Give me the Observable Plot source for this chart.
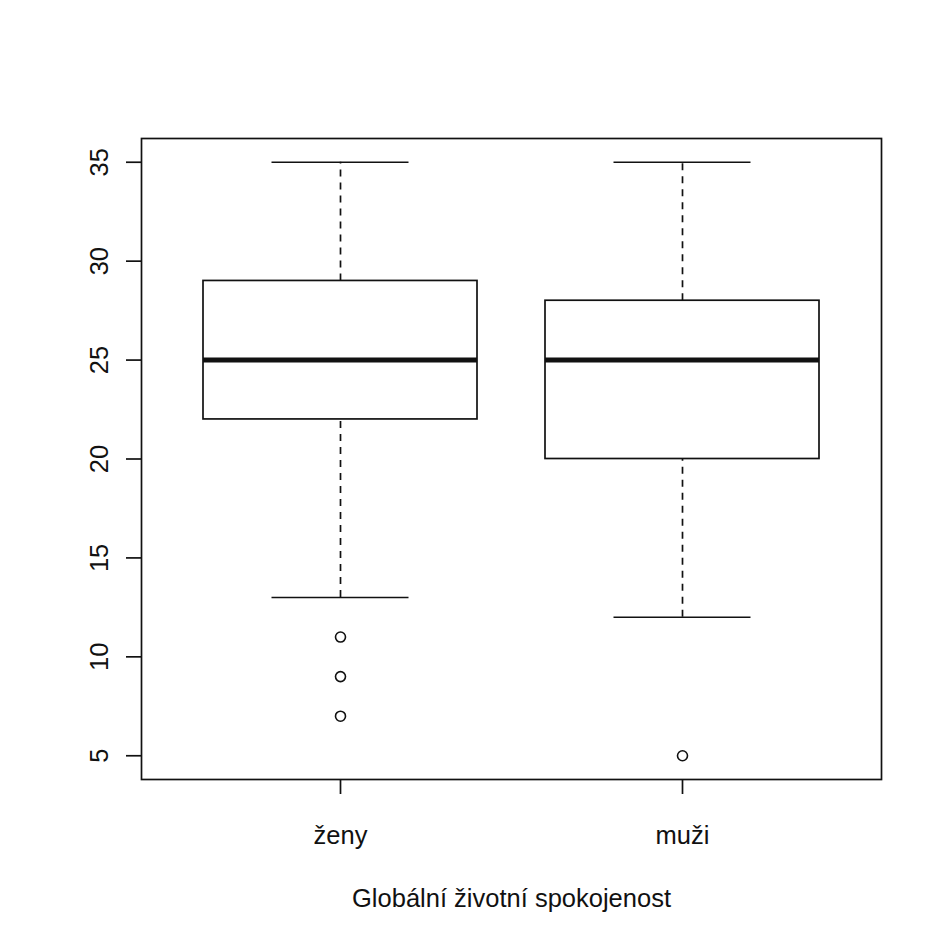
<!DOCTYPE html>
<html>
<head>
<meta charset="utf-8">
<script src="https://cdn.jsdelivr.net/npm/d3@7"></script>
<script src="https://cdn.jsdelivr.net/npm/@observablehq/plot@0.6"></script>
<style>
  html, body { margin: 0; padding: 0; background: #ffffff; }
  #chart svg { display: block; }
</style>
</head>
<body>
<div id="chart"></div>
<script>
// ---- Data ----
const groups = ["ženy", "muži"];
const lowerWhisker = [13, 12];
const q1 = [22, 20];
const median = [25, 25];
const q3 = [29, 28];
const upperWhisker = [35, 35];
const outlierGroup = ["ženy", "ženy", "ženy", "muži"];
const outlierValue = [11, 9, 7, 5];
const yTicks = [5, 10, 15, 20, 25, 30, 35];
const xTitle = "Globální životní spokojenost";

const boxes = groups.map((g, i) => ({
  group: g, lo: lowerWhisker[i], q1: q1[i], med: median[i], q3: q3[i], hi: upperWhisker[i]
}));
const outliers = outlierGroup.map((g, i) => ({group: g, value: outlierValue[i]}));

const ink = "#111";
const fontSize = 25.5;

const chart = Plot.plot({
  width: 938,
  height: 937,
  marginLeft: 141,
  marginRight: 57,
  marginTop: 138,
  marginBottom: 158,
  style: {fontFamily: "'Liberation Sans', Arial, sans-serif", fontSize: fontSize + "px", color: ink, background: "#ffffff"},
  x: {type: "band", domain: groups, paddingInner: 0.2, paddingOuter: 0.18},
  y: {domain: [3.8, 36.2]},
  marks: [
    // whiskers (dashed)
    Plot.ruleX(boxes, {x: "group", y1: "q3", y2: "hi", stroke: ink, strokeWidth: 1.7, strokeDasharray: "7,6"}),
    Plot.ruleX(boxes, {x: "group", y1: "lo", y2: "q1", stroke: ink, strokeWidth: 1.7, strokeDasharray: "7,6"}),
    // whisker caps (half box width)
    Plot.tickY(boxes, {x: "group", y: "hi", stroke: ink, strokeWidth: 1.7, insetLeft: 68.5, insetRight: 68.5}),
    Plot.tickY(boxes, {x: "group", y: "lo", stroke: ink, strokeWidth: 1.7, insetLeft: 68.5, insetRight: 68.5}),
    // boxes
    Plot.barY(boxes, {x: "group", y1: "q1", y2: "q3", fill: "white", stroke: ink, strokeWidth: 1.7}),
    // medians
    Plot.tickY(boxes, {x: "group", y: "med", stroke: ink, strokeWidth: 5}),
    // outliers
    Plot.dot(outliers, {x: "group", y: "value", r: 5, stroke: ink, strokeWidth: 1.6, fill: "none"}),
    // frame
    Plot.frame({stroke: ink, strokeWidth: 1.7}),
    // axes
    Plot.axisY({ticks: yTicks, tickSize: 15, tickPadding: 19, tickRotate: -90, label: null, fontSize: fontSize, stroke: ink, strokeWidth: 1.7}),
    Plot.axisX({tickSize: 15, tickPadding: 31, label: null, fontSize: fontSize, stroke: ink, strokeWidth: 1.7}),
    // x title
    Plot.text([xTitle], {text: d => d, frameAnchor: "bottom", dy: 127, lineAnchor: "bottom", fontSize: fontSize, fill: ink})
  ]
});
document.getElementById("chart").appendChild(chart);
</script>
</body>
</html>
